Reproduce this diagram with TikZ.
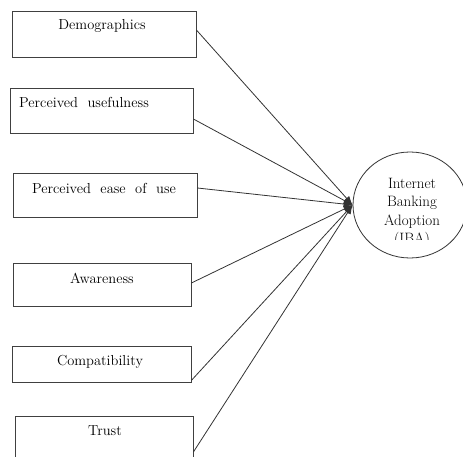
\documentclass[tikz,border=0pt]{standalone}
\usetikzlibrary{arrows.meta,shapes.geometric}
\begin{document}
\begin{tikzpicture}[x=1pt,y=-1pt,
  box/.style={draw=black!75,line width=0.8pt,rectangle,inner sep=0pt},
  lbl/.style={font=\fontsize{14.5}{17}\selectfont,inner sep=0pt,anchor=base},
  conn/.style={draw=black!80,line width=0.8pt,-{Latex[length=9pt,width=7pt]}}]
\useasboundingbox (0,0) rectangle (463,457);
% boxes
\node[box,minimum width=184pt,minimum height=46pt] (b1) at (104,34) {};
\node[box,minimum width=183pt,minimum height=45pt] (b2) at (101.5,110.5) {};
\node[box,minimum width=184pt,minimum height=44pt] (b3) at (105,195) {};
\node[box,minimum width=178pt,minimum height=43pt] (b4) at (102,284.5) {};
\node[box,minimum width=179pt,minimum height=36pt] (b5) at (101.5,364) {};
\node[box,minimum width=178pt,minimum height=54pt] (b6) at (104,443) {};
% labels
\node[lbl] (l1) at (102,30) {Demographics};
\node[lbl] (l2) at (84,108) {Perceived\ \ usefulness};
\node[lbl] (l3) at (104,194) {Perceived\ \ ease\ \ of\ \ use};
\node[lbl] (l4) at (102,283) {Awareness};
\node[lbl] (l5) at (100,365) {Compatibility};
\node[lbl] (l6) at (105,435) {Trust};
% ellipse
\node[draw=black!80,line width=0.8pt,ellipse,minimum width=114pt,minimum height=106pt,inner sep=0pt] (iba) at (410,205) {};
\begin{scope}
\clip (350,150) rectangle (470,239.5);
\node[font=\fontsize{15}{18.5}\selectfont,align=center,anchor=north,inner sep=0pt] (t) at (412,178) {Internet\\Banking\\Adoption\\(IBA)};
\end{scope}
% connectors
\draw[conn] ([yshift=4pt]b1.east) -- (iba.west);
\draw[conn] ([yshift=-8.5pt]b2.east) -- (iba.west);
\draw[conn] ([yshift=7pt]b3.east) -- (iba.west);
\draw[conn] ([yshift=1.5pt]b4.east) -- (iba.west);
\draw[conn] ([yshift=2pt]b5.south east) -- (iba.west);
\draw[conn] ([yshift=-9pt]b6.east) -- (iba.west);
\end{tikzpicture}
\end{document}
